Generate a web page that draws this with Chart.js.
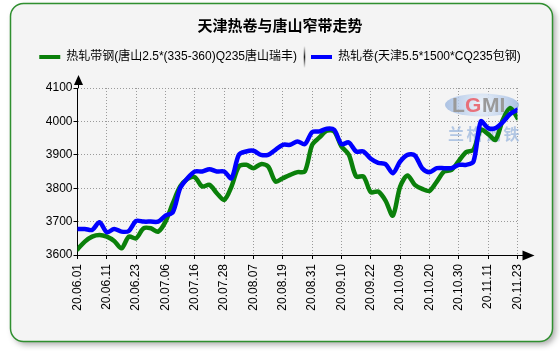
<!DOCTYPE html>
<html>
<head>
<meta charset="utf-8">
<script src="https://cdn.jsdelivr.net/npm/chart.js@4.4.0/dist/chart.umd.min.js"></script>
<style>
  html, body { margin: 0; padding: 0; background: #fff; }
</style>
</head>
<body>
<canvas id="c" width="560" height="351"></canvas>
<script>
// 기준 데이터: 2거래일 간격 샘플
const STEP = 2;
const TICK_EVERY = 8;
const tickLabels = ['20.06.01', '20.06.11', '20.06.23', '20.07.06', '20.07.16', '20.07.28', '20.08.07', '20.08.19',
  '20.08.31', '20.09.10', '20.09.22', '20.10.09', '20.10.20', '20.10.30', '20.11.11', '20.11.23'];

const tangshanStrip = [3617, 3640, 3655, 3660, 3655, 3642, 3620, 3655, 3650, 3680,
  3680, 3670, 3700, 3755, 3805, 3828, 3833, 3805, 3810, 3785,
  3765, 3805, 3865, 3870, 3860, 3872, 3865, 3820, 3830, 3840,
  3848, 3850, 3930, 3952, 3972, 3970, 3925, 3900, 3835, 3835,
  3788, 3790, 3763, 3718, 3805, 3838, 3810, 3798, 3792, 3820,
  3850, 3855, 3882, 3908, 3915, 3975, 3962, 3945, 4005, 4040, 4010];

const tianjinCoil = [3678, 3678, 3675, 3698, 3668, 3678, 3670, 3672, 3702, 3700,
  3700, 3700, 3718, 3728, 3800, 3830, 3850, 3850, 3857, 3850,
  3850, 3830, 3900, 3910, 3912, 3900, 3900, 3915, 3930, 3930,
  3940, 3932, 3968, 3970, 3978, 3975, 3932, 3937, 3910, 3910,
  3888, 3876, 3872, 3845, 3880, 3900, 3898, 3860, 3848, 3860,
  3860, 3860, 3870, 3870, 3880, 4000, 3980, 3980, 3998, 4022, 4035];

const seriesNames = ['热轧带钢(唐山2.5*(335-360)Q235唐山瑞丰)', '热轧卷(天津5.5*1500*CQ235包钢)'];

const toPoints = arr => arr.map((v, k) => ({ x: k * STEP, y: v }));
const FONT = '"Liberation Sans", "Noto Sans CJK SC", sans-serif';

// 카드 배경 + 그림자
const cardBg = {
  id: 'cardBg',
  beforeDraw(chart) {
    const ctx = chart.ctx;
    ctx.save();
    ctx.fillStyle = '#fff';
    ctx.fillRect(0, 0, chart.width, chart.height);
    ctx.shadowColor = 'rgba(0,0,0,0.35)';
    ctx.shadowBlur = 6;
    ctx.shadowOffsetX = 3;
    ctx.shadowOffsetY = 3;
    ctx.beginPath();
    ctx.roundRect(10.5, 3.5, 542, 338, 13);
    ctx.fillStyle = '#f4f4f4';
    ctx.fill();
    ctx.shadowColor = 'transparent';
    ctx.lineWidth = 1.5;
    ctx.strokeStyle = '#2f8f2f';
    ctx.stroke();
    ctx.restore();
  }
};

// 범례 아래 여백
const legendGap = {
  id: 'legendGap',
  beforeInit(chart) {
    const fit = chart.legend.fit;
    chart.legend.fit = function () {
      fit.call(this);
      this.height += 15;
    };
  }
};

// 범례 구분선
const legendSep = {
  id: 'legendSep',
  afterDraw(chart) {
    const hb = chart.legend.legendHitBoxes;
    if (!hb || hb.length < 2) return;
    const ctx = chart.ctx;
    const x = Math.round((hb[0].left + hb[0].width + hb[1].left) / 2) + 0.5;
    const y0 = hb[1].top - 5, y1 = hb[1].top + 17;
    const g = ctx.createLinearGradient(0, y0, 0, y1);
    g.addColorStop(0, 'rgba(0,0,0,0)');
    g.addColorStop(0.5, 'rgba(0,0,0,0.9)');
    g.addColorStop(1, 'rgba(0,0,0,0)');
    ctx.save();
    ctx.strokeStyle = g;
    ctx.lineWidth = 1.5;
    ctx.beginPath();
    ctx.moveTo(x, y0);
    ctx.lineTo(x, y1);
    ctx.stroke();
    ctx.restore();
  }
};

// 워터마크
const watermark = {
  id: 'watermark',
  beforeDatasetsDraw(chart) {
    const ctx = chart.ctx;
    const cx = 482, cy = 105;
    ctx.save();
    const g = ctx.createRadialGradient(cx, cy, 2, cx, cy, 38);
    g.addColorStop(0, 'rgba(235,242,250,0.9)');
    g.addColorStop(0.7, 'rgba(175,198,232,0.8)');
    g.addColorStop(1, 'rgba(140,172,218,0.7)');
    ctx.fillStyle = g;
    ctx.beginPath();
    ctx.ellipse(cx, cy, 37, 11.5, 0, 0, Math.PI * 2);
    ctx.fill();
    ctx.font = 'bold 21px ' + FONT;
    ctx.textBaseline = 'middle';
    ctx.fillStyle = '#9a9a9a';
    ctx.fillText('L', 452, 106);
    ctx.fillStyle = '#e8707a';
    ctx.fillText('G', 465, 106);
    ctx.fillStyle = '#9a9a9a';
    ctx.fillText('MI', 482, 106);
    ctx.font = 'bold 16px "Noto Sans CJK SC"';
    ctx.fillStyle = 'rgba(160,186,222,0.8)';
    ctx.textAlign = 'center';
    ['兰', '格', '钢', '铁'].forEach((ch, i) => ctx.fillText(ch, 456 + i * 18.5, 134));
    ctx.restore();
  }
};

// 축 화살표
const axisArrows = {
  id: 'axisArrows',
  afterDraw(chart) {
    const { left, right, top, bottom } = chart.chartArea;
    const ctx = chart.ctx;
    const xl = Math.round(left) + 0.5, yb = Math.round(bottom) + 0.5;
    ctx.save();
    ctx.strokeStyle = '#000';
    ctx.fillStyle = '#000';
    ctx.lineWidth = 1;
    ctx.beginPath();
    ctx.moveTo(xl, top);
    ctx.lineTo(xl, top - 4);
    ctx.moveTo(right, yb);
    ctx.lineTo(right + 6, yb);
    ctx.stroke();
    ctx.beginPath();
    ctx.moveTo(xl, top - 13);
    ctx.lineTo(xl - 4.5, top - 3);
    ctx.lineTo(xl + 4.5, top - 3);
    ctx.closePath();
    ctx.fill();
    ctx.beginPath();
    ctx.moveTo(right + 17, yb);
    ctx.lineTo(right + 5, yb - 5);
    ctx.lineTo(right + 5, yb + 5);
    ctx.closePath();
    ctx.fill();
    ctx.restore();
  }
};

new Chart(document.getElementById('c'), {
  type: 'line',
  data: {
    datasets: [
      {
        label: seriesNames[0],
        data: toPoints(tangshanStrip),
        borderColor: '#0a800a',
        borderWidth: 4.5,
        tension: 0.3,
        pointRadius: 0,
        borderJoinStyle: 'round',
        borderCapStyle: 'round',
        order: 2
      },
      {
        label: seriesNames[1],
        data: toPoints(tianjinCoil),
        borderColor: '#0000ff',
        borderWidth: 4.5,
        tension: 0.3,
        pointRadius: 0,
        borderJoinStyle: 'round',
        borderCapStyle: 'round',
        order: 1
      }
    ]
  },
  options: {
    responsive: false,
    animation: false,
    layout: { padding: { left: 0, right: 0, top: 0, bottom: 0 } },
    plugins: {
      tooltip: { enabled: false },
      title: {
        display: true,
        text: '天津热卷与唐山窄带走势',
        color: '#000',
        font: { family: '"Noto Sans CJK SC"', size: 15, weight: 'bold' },
        padding: { top: 16, bottom: 3 }
      },
      legend: {
        display: true,
        labels: {
          color: '#000',
          font: { family: FONT, size: 12 },
          boxWidth: 21,
          boxHeight: 4,
          padding: 14,
          generateLabels: (chart) => chart.data.datasets.map((ds, i) => ({
            text: ds.label,
            fillStyle: ds.borderColor,
            strokeStyle: ds.borderColor,
            lineWidth: 0,
            hidden: false,
            datasetIndex: i,
            fontColor: '#000'
          }))
        }
      }
    },
    scales: {
      x: {
        type: 'linear',
        min: 0,
        max: (tickLabels.length - 1) * TICK_EVERY,
        afterFit: s => { s.height = 96; },
        border: { display: true, color: '#000', width: 1, dash: [1, 2] },
        grid: { color: '#9a9a9a', tickColor: '#000', tickLength: 4, tickBorderDash: [] },
        ticks: {
          stepSize: TICK_EVERY,
          autoSkip: false,
          maxRotation: 90,
          minRotation: 90,
          padding: 5,
          color: '#000',
          font: { family: FONT, size: 12 },
          callback: v => tickLabels[v / TICK_EVERY] || ''
        }
      },
      y: {
        min: 3600,
        max: 4100,
        afterFit: s => { s.width = 77.5; },
        border: { display: true, color: '#000', width: 1, dash: [1, 2] },
        grid: { color: '#9a9a9a', tickColor: '#000', tickLength: 4, tickBorderDash: [] },
        ticks: {
          stepSize: 100,
          padding: 1,
          color: '#000',
          font: { family: FONT, size: 12 },
          callback: v => String(v)
        }
      },
      yPad: {
        position: 'right',
        display: true,
        afterFit: s => { s.width = 42.5; },
        border: { display: false },
        grid: { display: false },
        ticks: { display: false }
      }
    }
  },
  plugins: [cardBg, legendGap, legendSep, watermark, axisArrows]
});
</script>
</body>
</html>
